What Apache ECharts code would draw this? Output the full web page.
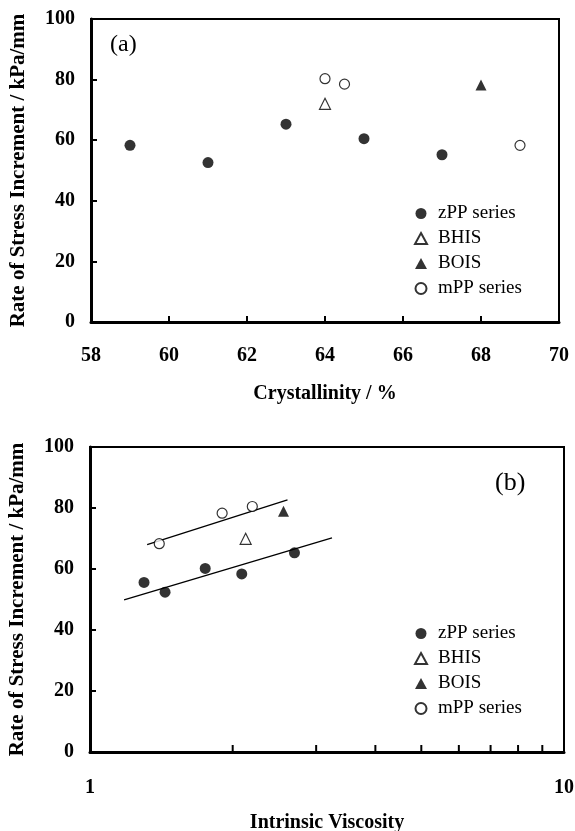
<!DOCTYPE html>
<html>
<head>
<meta charset="utf-8">
<script src="https://cdn.jsdelivr.net/npm/echarts@6/dist/echarts.min.js"></script>
<style>
  html, body { margin: 0; padding: 0; background: #fff; }
  #main { width: 575px; height: 831px; }
</style>
</head>
<body>
<div id="main"></div>
<script>
// panel (a): crystallinity
var aZppX = [59, 61, 63, 65, 67];
var aZppY = [58.3, 52.6, 65.3, 60.5, 55.2];
var aBhisX = [64];
var aBhisY = [72.0];
var aBoisX = [68];
var aBoisY = [78.2];
var aMppX = [64, 64.5, 69];
var aMppY = [80.3, 78.5, 58.3];

// panel (b): intrinsic viscosity (log axis)
var bZppX = [1.30, 1.44, 1.75, 2.09, 2.70];
var bZppY = [55.6, 52.4, 60.2, 58.4, 65.3];
var bBhisX = [2.13];
var bBhisY = [69.9];
var bBoisX = [2.56];
var bBoisY = [78.9];
var bMppX = [1.40, 1.90, 2.20];
var bMppY = [68.3, 78.3, 80.5];
// fitted lines
var bZppFitX = [1.18, 3.24];
var bZppFitY = [49.9, 70.2];
var bMppFitX = [1.32, 2.61];
var bMppFitY = [68.0, 82.7];

var bMinorTicks = [2, 3, 4, 5, 6, 7, 8, 9];
var legendNames = ['zPP series', 'BHIS', 'BOIS', 'mPP series'];

var FONT = '"Liberation Serif", "Times New Roman", serif';

function pairs(xs, ys) {
    return xs.map(function (x, i) { return [x, ys[i]]; });
}

var filledDot = {symbol: 'circle', symbolSize: 11, itemStyle: {color: '#000'}};
var openDot = {symbol: 'circle', symbolSize: 10, itemStyle: {color: '#fff', borderColor: '#000', borderWidth: 1.2}};
var openTri = {symbol: 'triangle', symbolSize: 11, itemStyle: {color: '#fff', borderColor: '#000', borderWidth: 1.2}};
var filledTri = {symbol: 'triangle', symbolSize: 11, itemStyle: {color: '#000'}};

function scatter(name, idx, data, look) {
    return Object.assign({
        name: name,
        type: 'scatter',
        xAxisIndex: idx,
        yAxisIndex: idx,
        data: data,
        z: 5
    }, look);
}

var axisLine = {show: true, lineStyle: {color: '#000', width: 3}};
var tickStyle = {show: true, inside: true, length: 6, lineStyle: {color: '#000', width: 2}};
var labelStyle = {color: '#000', fontFamily: FONT, fontWeight: 'bold', fontSize: 20};
var nameStyle = {color: '#000', fontFamily: FONT, fontWeight: 'bold', fontSize: 20};

function yAxis(gridIndex) {
    return {
        type: 'value',
        gridIndex: gridIndex,
        min: 0, max: 100, interval: 20,
        name: 'Rate of Stress Increment / kPa/mm',
        nameLocation: 'middle',
        nameGap: 62,
        nameTextStyle: Object.assign({}, nameStyle, {fontSize: 21}),
        axisLine: axisLine,
        axisTick: tickStyle,
        axisLabel: Object.assign({margin: 16}, labelStyle),
        splitLine: {show: false}
    };
}

var legendBase = {
    orient: 'vertical',
    data: legendNames,
    itemWidth: 12,
    itemHeight: 11,
    itemGap: 4,
    selectedMode: false,
    textStyle: {color: '#000', fontFamily: FONT, fontSize: 19, lineHeight: 21, padding: [0, 0, 0, 6]}
};

var myChart = echarts.init(document.getElementById('main'), null, {renderer: 'canvas'});

var option = {
    backgroundColor: '#fff',
    animation: false,
    grid: [
        {left: 91, top: 19, width: 468, height: 303, show: true, borderColor: '#000', borderWidth: 2, outerBoundsMode: 'none'},
        {left: 90, top: 447, width: 474, height: 305, show: true, borderColor: '#000', borderWidth: 2, outerBoundsMode: 'none'}
    ],
    xAxis: [
        {
            type: 'value',
            gridIndex: 0,
            min: 58, max: 70, interval: 2,
            name: 'Crystallinity / %',
            nameLocation: 'middle',
            nameGap: 62,
            nameTextStyle: nameStyle,
            axisLine: axisLine,
            axisTick: tickStyle,
            axisLabel: Object.assign({margin: 24}, labelStyle),
            splitLine: {show: false}
        },
        {
            type: 'log',
            logBase: 10,
            gridIndex: 1,
            min: 1, max: 10,
            name: 'Intrinsic Viscosity',
            nameLocation: 'middle',
            nameGap: 61,
            nameTextStyle: nameStyle,
            axisLine: axisLine,
            axisTick: tickStyle,
            axisLabel: Object.assign({margin: 26}, labelStyle),
            splitLine: {show: false}
        }
    ],
    yAxis: [yAxis(0), yAxis(1)],
    legend: [
        Object.assign({left: 409, top: 198}, legendBase),
        Object.assign({left: 409, top: 618}, legendBase)
    ],
    graphic: [
        {type: 'text', left: 110, top: 33, style: {text: '(a)', font: '24px ' + FONT, fill: '#000'}},
        {type: 'text', left: 495, top: 470, style: {text: '(b)', font: '26px ' + FONT, fill: '#000'}}
    ],
    series: [
        scatter('zPP series', 0, pairs(aZppX, aZppY), filledDot),
        scatter('BHIS', 0, pairs(aBhisX, aBhisY), openTri),
        scatter('BOIS', 0, pairs(aBoisX, aBoisY), filledTri),
        scatter('mPP series', 0, pairs(aMppX, aMppY), openDot),

        scatter('zPP series', 1, pairs(bZppX, bZppY), filledDot),
        scatter('BHIS', 1, pairs(bBhisX, bBhisY), openTri),
        scatter('BOIS', 1, pairs(bBoisX, bBoisY), filledTri),
        scatter('mPP series', 1, pairs(bMppX, bMppY), openDot),
        {
            name: 'zPP fit', type: 'line', xAxisIndex: 1, yAxisIndex: 1,
            data: pairs(bZppFitX, bZppFitY), showSymbol: false, symbol: 'none',
            lineStyle: {color: '#000', width: 1.3}, z: 3
        },
        {
            name: 'mPP fit', type: 'line', xAxisIndex: 1, yAxisIndex: 1,
            data: pairs(bMppFitX, bMppFitY), showSymbol: false, symbol: 'none',
            lineStyle: {color: '#000', width: 1.3}, z: 3
        },
        {
            // minor ticks of the log axis (2..9), drawn on the axis scale
            name: 'log ticks', type: 'custom', xAxisIndex: 1, yAxisIndex: 1,
            data: bMinorTicks.map(function (v) { return [v, 0]; }),
            clip: false, silent: true, z: 10,
            renderItem: function (params, api) {
                var p = api.coord([api.value(0), 0]);
                return {
                    type: 'line',
                    shape: {x1: p[0], y1: p[1] - 1, x2: p[0], y2: p[1] - 7},
                    style: {stroke: '#000', lineWidth: 2}
                };
            }
        }
    ]
};

myChart.setOption(option);
</script>
</body>
</html>
